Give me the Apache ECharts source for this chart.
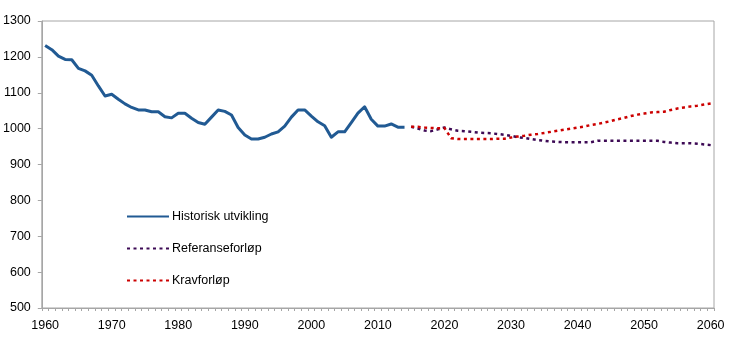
<!DOCTYPE html>
<html>
<head>
<meta charset="utf-8">
<script src="https://cdn.jsdelivr.net/npm/echarts@6/dist/echarts.min.js"></script>
<style>
  html, body { margin: 0; padding: 0; background: #fff; }
  #chart { width: 730px; height: 347px; }
</style>
</head>
<body>
<div id="chart"></div>
<script>
// Years on the category axis
const firstYear = 1960;
const lastYear = 2060;

// Historical development, 1960-2014
const histStart = 1960;
const historisk = [
  1232, 1220, 1202, 1193, 1192, 1168, 1161, 1149, 1119, 1091,
  1096, 1082, 1069, 1059, 1052, 1052, 1047, 1047, 1033, 1030,
  1043, 1043, 1029, 1017, 1012, 1032, 1052, 1048, 1038, 1003,
  982, 971, 971, 976, 985, 991, 1007, 1032, 1052, 1052,
  1035, 1019, 1008, 976, 991, 991, 1017, 1043, 1061, 1026,
  1007, 1007, 1013, 1004, 1004
];

// Projections, 2015-2060
const projStart = 2015;
const referanse = [
  1005, 1000, 995, 993, 998, 1003, 998, 994, 993, 991,
  989, 988, 987, 985, 983, 980, 976, 974, 971, 968,
  966, 964, 963, 962, 962, 962, 962, 962, 966, 966,
  966, 966, 966, 966, 966, 966, 966, 966, 963, 961,
  959, 959, 959, 958, 956, 954
];
const krav = [
  1005, 1005, 1003, 1002, 1001, 1002, 973, 971, 971, 971,
  971, 971, 971, 972, 972, 975, 978, 980, 983, 985,
  988, 991, 994, 997, 1000, 1003, 1006, 1010, 1013, 1017,
  1021, 1026, 1030, 1035, 1039, 1042, 1045, 1046, 1047, 1052,
  1056, 1059, 1062, 1064, 1067, 1070
];

const seriesNames = ['Historisk utvikling', 'Referanseforløp', 'Kravforløp'];

const years = [];
for (let y = firstYear; y <= lastYear; y++) years.push(String(y));

function place(values, start) {
  return years.map((y) => {
    const i = Number(y) - start;
    return i >= 0 && i < values.length ? values[i] : null;
  });
}

const font = 'Arial, "Liberation Sans", sans-serif';
const axisGray = '#a6a6a6';
const labelSize = 12.5;

const chart = echarts.init(document.getElementById('chart'), null, { renderer: 'canvas' });
chart.setOption({
  animation: false,
  backgroundColor: '#ffffff',
  grid: {
    left: 40, right: 16, top: 21, bottom: 39,
    show: true, borderColor: axisGray, borderWidth: 1, backgroundColor: 'transparent'
  },
  legend: {
    orient: 'vertical',
    left: 121, top: 205,
    itemWidth: 42, itemHeight: 14, itemGap: 19,
    itemStyle: { opacity: 0 },
    textStyle: { fontFamily: font, fontSize: labelSize, color: '#000', padding: [0, 0, 0, -2] },
    data: seriesNames
  },
  xAxis: {
    type: 'category',
    data: years,
    boundaryGap: true,
    axisLine: { lineStyle: { color: axisGray, width: 1 } },
    axisTick: { show: true, interval: 0, length: 3, lineStyle: { color: axisGray } },
    axisLabel: { interval: 9, margin: 11, fontFamily: font, fontSize: labelSize, color: '#000' },
    splitLine: { show: false }
  },
  yAxis: {
    type: 'value',
    min: 500, max: 1300, interval: 100,
    axisLine: { show: true, lineStyle: { color: axisGray, width: 1 } },
    axisTick: { show: true, length: 4, lineStyle: { color: axisGray } },
    axisLabel: {
      margin: 11, fontFamily: font, fontSize: labelSize, color: '#000',
      formatter: (v) => String(v)
    },
    splitLine: { show: false }
  },
  series: [
    {
      name: seriesNames[0], type: 'line', symbol: 'none',
      data: place(historisk, histStart),
      color: '#215a93',
      lineStyle: { color: '#215a93', width: 3, join: 'round' },
      z: 3
    },
    {
      name: seriesNames[1], type: 'line', symbol: 'none',
      data: place(referanse, projStart),
      color: '#3d0a55',
      lineStyle: { color: '#3d0a55', width: 2.5, type: [3, 3.5], cap: 'butt' },
      z: 2
    },
    {
      name: seriesNames[2], type: 'line', symbol: 'none',
      data: place(krav, projStart),
      color: '#cc0000',
      lineStyle: { color: '#cc0000', width: 2.5, type: [3, 3.5], cap: 'butt' },
      z: 4
    }
  ]
});
</script>
</body>
</html>
